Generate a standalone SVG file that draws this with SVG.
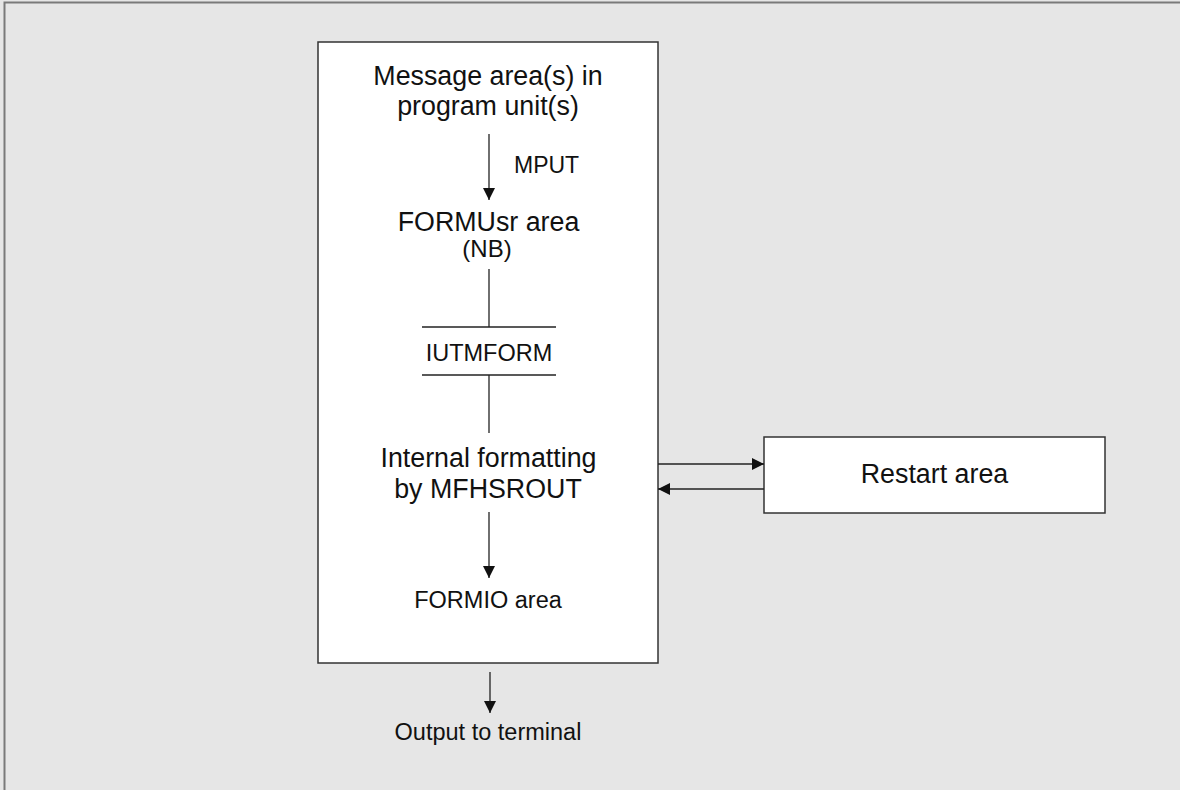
<svg xmlns="http://www.w3.org/2000/svg" width="1180" height="790" viewBox="0 0 1180 790">
  <style>
    .t { font-family: "Liberation Sans", Arial, sans-serif; fill: #111111; text-anchor: middle; }
    .big { font-size: 26.8px; }
    .small { font-size: 23.5px; }
    .box { fill: #ffffff; stroke: #333333; stroke-width: 1.5; }
    .ln { stroke: #222222; stroke-width: 1.3; fill: none; }
  </style>
  <defs>
    <marker id="ah" markerWidth="13" markerHeight="13" refX="12" refY="6.5" orient="auto" markerUnits="userSpaceOnUse">
      <path d="M0,0.5 L12,6.5 L0,12.5 Z" fill="#111111"/>
    </marker>
  </defs>
  <rect x="0" y="0" width="1180" height="790" fill="#e6e6e6"/>
  <path d="M4.5,790 L4.5,2.5 L1180,2.5" fill="none" stroke="#7a7a7a" stroke-width="2"/>

  <g id="main">
    <rect class="box" x="318" y="42" width="340" height="621"/>
    <text class="t big" x="488" y="85">Message area(s) in</text>
    <text class="t big" x="488" y="115">program unit(s)</text>
  </g>
  <g id="formusr">
    <text class="t big" x="488.5" y="231">FORMUsr area</text>
    <text class="t" style="font-size:24px" x="487" y="257">(NB)</text>
  </g>
  <g id="iutmform">
    <line class="ln" x1="422" y1="327" x2="556" y2="327"/>
    <line class="ln" x1="422" y1="375" x2="556" y2="375"/>
    <text class="t small" x="489" y="361">IUTMFORM</text>
  </g>
  <g id="internal">
    <text class="t big" x="488.5" y="467">Internal formatting</text>
    <text class="t big" x="488" y="498">by MFHSROUT</text>
  </g>
  <g id="formio">
    <text class="t small" x="488" y="608">FORMIO area</text>
  </g>
  <g id="restart">
    <rect class="box" x="764" y="437" width="341" height="76"/>
    <text class="t big" x="934.5" y="483">Restart area</text>
  </g>
  <g id="output">
    <text class="t small" x="488" y="740">Output to terminal</text>
  </g>

  <g id="connectors">
    <line class="ln" x1="489" y1="134" x2="489" y2="200" marker-end="url(#ah)"/>
    <text class="t" style="font-size:23px;text-anchor:start" x="514" y="173">MPUT</text>
    <line class="ln" x1="489" y1="269" x2="489" y2="327"/>
    <line class="ln" x1="489" y1="375" x2="489" y2="433"/>
    <line class="ln" x1="489" y1="512" x2="489" y2="578" marker-end="url(#ah)"/>
    <line class="ln" x1="658" y1="464" x2="764" y2="464" marker-end="url(#ah)"/>
    <line class="ln" x1="764" y1="489" x2="658" y2="489" marker-end="url(#ah)"/>
    <line class="ln" x1="490" y1="672" x2="490" y2="713" marker-end="url(#ah)"/>
  </g>
</svg>
